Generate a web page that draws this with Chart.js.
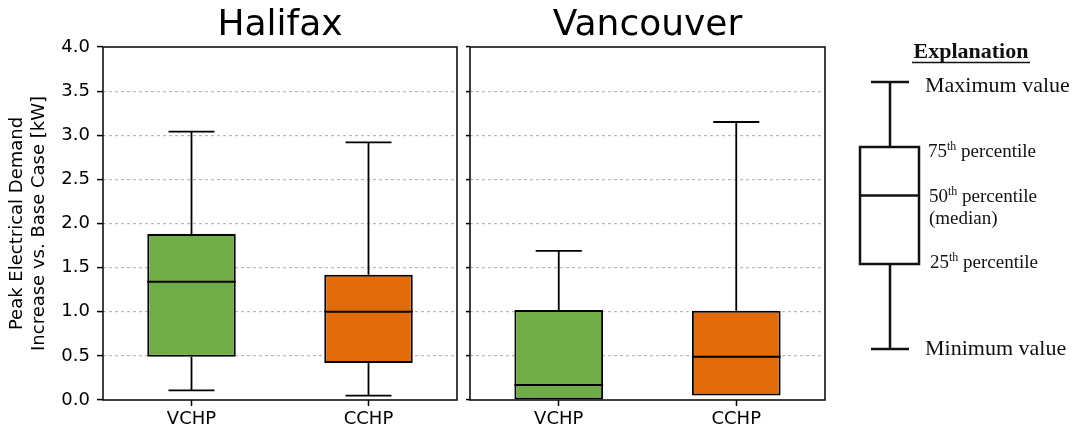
<!DOCTYPE html>
<html>
<head>
<meta charset="utf-8">
<script src="https://cdn.jsdelivr.net/npm/chart.js@4"></script>
<style>
html,body{margin:0;padding:0;background:#fff;}
#wrap{position:relative;width:1078px;height:436px;overflow:hidden;background:#fff;}
#c1{position:absolute;left:0;top:0;}
#c2{position:absolute;left:462px;top:0;}
#expl{position:absolute;left:0;top:0;pointer-events:none;}
</style>
</head>
<body>
<div id="wrap">
<canvas id="c1" width="462" height="436"></canvas>
<canvas id="c2" width="372" height="436"></canvas>
<svg id="expl" width="1078" height="436" font-family="'Liberation Serif','Times New Roman',serif" fill="#111">
  <text x="971" y="58" text-anchor="middle" font-weight="bold" font-size="22">Explanation</text>
  <line x1="912" y1="62.5" x2="1030" y2="62.5" stroke="#111" stroke-width="1.5"/>
  <g stroke="#111" stroke-width="2.5" fill="none">
    <line x1="871" y1="82" x2="909" y2="82"/>
    <line x1="890" y1="82" x2="890" y2="147"/>
    <rect x="860" y="147" width="59" height="117"/>
    <line x1="860" y1="195.5" x2="919" y2="195.5"/>
    <line x1="890" y1="264" x2="890" y2="349"/>
    <line x1="871" y1="349" x2="909" y2="349"/>
  </g>
  <text x="925" y="92" font-size="22">Maximum value</text>
  <text x="928" y="157" font-size="19">75<tspan font-size="12" dy="-7">th</tspan><tspan dy="7"> percentile</tspan></text>
  <text x="929" y="202" font-size="19">50<tspan font-size="12" dy="-7">th</tspan><tspan dy="7"> percentile</tspan></text>
  <text x="929" y="224" font-size="19">(median)</text>
  <text x="930" y="268" font-size="19">25<tspan font-size="12" dy="-7">th</tspan><tspan dy="7"> percentile</tspan></text>
  <text x="925" y="355" font-size="22">Minimum value</text>
</svg>
</div>
<script>
// ---- data ----
const categories = ['VCHP', 'CCHP'];
const panelTitles = ['Halifax', 'Vancouver'];
const yAxisLabel = ['Peak Electrical Demand', 'Increase vs. Base Case [kW]'];

const halifaxMin    = [0.11, 0.05];
const halifaxQ1     = [0.49, 0.42];
const halifaxMedian = [1.34, 1.00];
const halifaxQ3     = [1.88, 1.42];
const halifaxMax    = [3.04, 2.92];

const vancouverMin    = [0.00, 0.05];
const vancouverQ1     = [0.00, 0.05];
const vancouverMedian = [0.17, 0.49];
const vancouverQ3     = [1.02, 1.01];
const vancouverMax    = [1.69, 3.15];

const yMin = 0, yMax = 4, yStep = 0.5;
const boxColors = ['#70ad47', '#e36c0a'];

Chart.defaults.font.family = "'DejaVu Sans', sans-serif";
Chart.defaults.color = '#000';

function makeBoxPlugin(mins, q1s, meds, q3s, maxs) {
  return {
    id: 'boxWhiskers',
    afterDatasetsDraw(chart) {
      const ctx = chart.ctx;
      const y = chart.scales.y;
      const meta = chart.getDatasetMeta(0);
      ctx.save();
      ctx.strokeStyle = '#000';
      meta.data.forEach((bar, i) => {
        const cx = bar.x;
        const half = bar.width / 2;
        const cap = bar.width * 0.26;
        const pMin = y.getPixelForValue(mins[i]);
        const pQ1 = y.getPixelForValue(q1s[i]);
        const pMed = y.getPixelForValue(meds[i]);
        const pQ3 = y.getPixelForValue(q3s[i]);
        const pMax = y.getPixelForValue(maxs[i]);
        ctx.lineWidth = 1.8;
        ctx.beginPath();
        ctx.moveTo(cx, pQ3); ctx.lineTo(cx, pMax);
        ctx.moveTo(cx - cap, pMax); ctx.lineTo(cx + cap, pMax);
        if (pMin - pQ1 > 0.5) {
          ctx.moveTo(cx, pQ1); ctx.lineTo(cx, pMin);
          ctx.moveTo(cx - cap, pMin); ctx.lineTo(cx + cap, pMin);
        }
        ctx.stroke();
        ctx.lineWidth = 2;
        ctx.beginPath();
        ctx.moveTo(cx - half, pMed); ctx.lineTo(cx + half, pMed);
        ctx.stroke();
      });
      ctx.restore();
    },
    afterDraw(chart) {
      const ctx = chart.ctx;
      const a = chart.chartArea;
      ctx.save();
      ctx.strokeStyle = '#111';
      ctx.lineWidth = 1.6;
      ctx.strokeRect(a.left, a.top, a.right - a.left, a.bottom - a.top);
      ctx.restore();
    }
  };
}

function makeChart(canvasId, title, q1s, q3s, mins, meds, maxs, isLeft) {
  return new Chart(document.getElementById(canvasId), {
    type: 'bar',
    data: {
      labels: categories,
      datasets: [{
        data: q1s.map((v, i) => [v, q3s[i]]),
        backgroundColor: boxColors,
        borderColor: '#000',
        borderWidth: 2,
        borderSkipped: false,
        barPercentage: 0.5,
        categoryPercentage: 1.0
      }]
    },
    options: {
      responsive: false,
      animation: false,
      devicePixelRatio: 1,
      layout: { padding: { left: 0, right: isLeft ? 5 : 9, top: 0, bottom: 0 } },
      plugins: {
        legend: { display: false },
        tooltip: { enabled: false },
        title: {
          display: true,
          text: title,
          fullSize: false,
          color: '#000',
          font: { size: 36, weight: 'normal', lineHeight: 1.2 },
          padding: { top: 3.8, bottom: 0 }
        }
      },
      scales: {
        x: {
          offset: true,
          afterFit(s) { s.height = 36; },
          grid: { display: true, drawOnChartArea: false, offset: false, tickLength: 6, tickColor: '#000', tickWidth: 1.5 },
          border: { display: false },
          ticks: { font: { size: 18 }, padding: 3, color: '#000' }
        },
        y: {
          min: yMin, max: yMax,
          afterFit(s) { s.width = isLeft ? 103 : 8; },
          ticks: {
            display: isLeft,
            stepSize: yStep,
            callback: v => Number(v).toFixed(1),
            font: { size: 18 },
            padding: 7,
            color: '#000'
          },
          grid: {
            color: c => (c.tick && (c.tick.value === yMin || c.tick.value === yMax)) ? 'rgba(0,0,0,0)' : '#b8b8b8',
            lineWidth: 1.2,
            tickColor: '#000',
            tickLength: isLeft ? 6 : 4,
            tickWidth: 1.5
          },
          border: { display: false, dash: [3, 3] },
          title: {
            display: isLeft,
            text: yAxisLabel,
            font: { size: 18, lineHeight: 1.2 },
            color: '#000',
            padding: { top: 7, bottom: 0 }
          }
        }
      }
    },
    plugins: [makeBoxPlugin(mins, q1s, meds, q3s, maxs)]
  });
}

makeChart('c1', panelTitles[0], halifaxQ1, halifaxQ3, halifaxMin, halifaxMedian, halifaxMax, true);
makeChart('c2', panelTitles[1], vancouverQ1, vancouverQ3, vancouverMin, vancouverMedian, vancouverMax, false);
</script>
</body>
</html>
